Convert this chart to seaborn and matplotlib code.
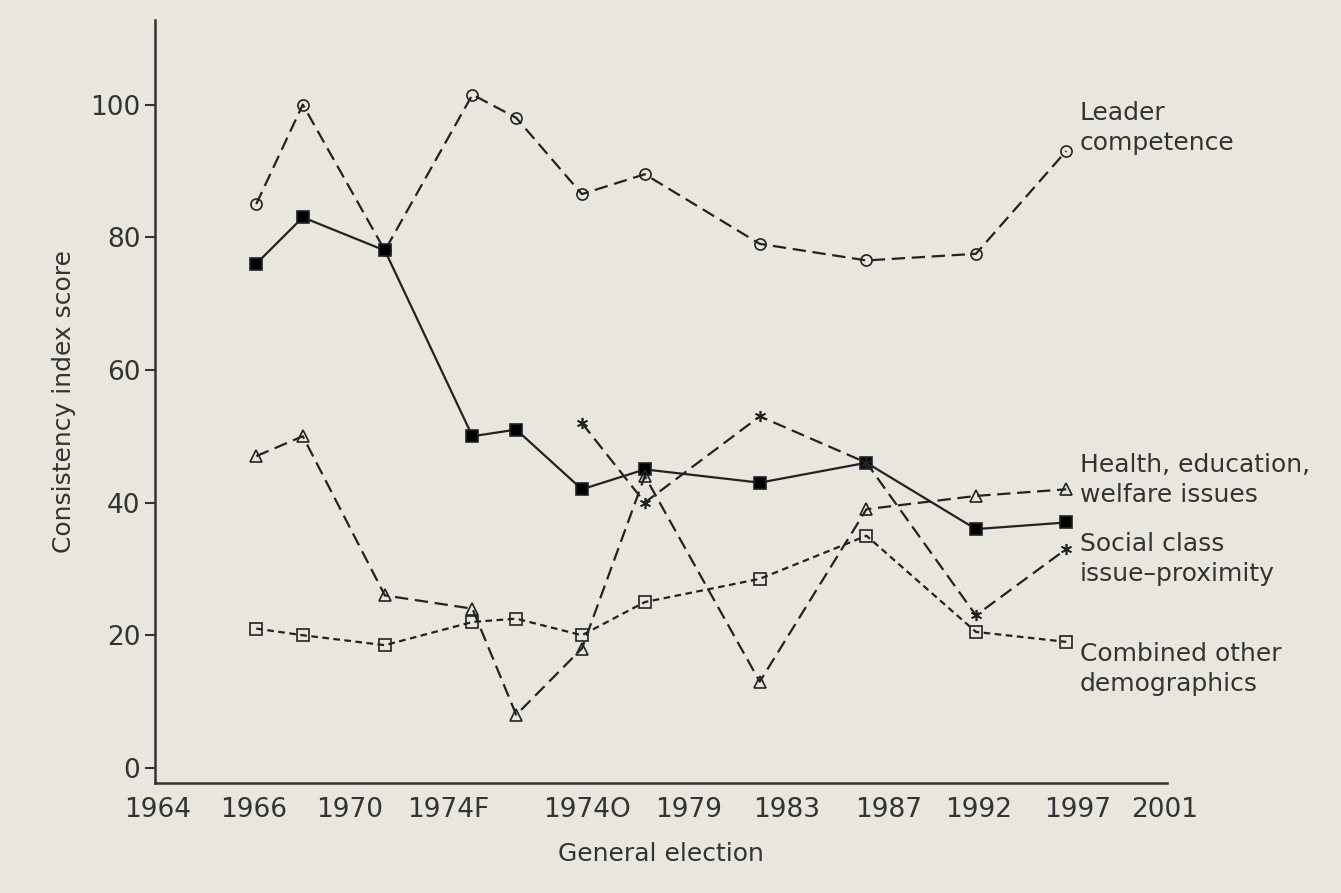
import numpy as np
import pandas as pd
import matplotlib
matplotlib.use("Agg")
import matplotlib.pyplot as plt
import seaborn as sns

# x positions on the chart's own (uneven) election scale
x_pts = [1967.7, 1969.4, 1972.4, 1975.6, 1977.2, 1979.6, 1981.9, 1986.1, 1990.0, 1994.0, 1997.3]
tick_pos = [1964.1, 1967.6, 1971.1, 1974.7, 1979.8, 1983.5, 1987.1, 1990.8, 1994.1, 1997.7, 2000.9]
tick_labels = ["1964", "1966", "1970", "1974F", "1974O", "1979", "1983", "1987", "1992", "1997", "2001"]

leader = [85, 100, 78, 101.5, 98, 86.5, 89.5, 79, 76.5, 77.5, 93]
social = [76, 83, 78, 50, 51, 42, 45, 43, 46, 36, 37]
health = [47, 50, 26, 24, 8, 18, 44, 13, 39, 41, 42]
proximity = [np.nan] * 5 + [52, 40, 53, 46, 23, 33]
combined = [21, 20, 18.5, 22, 22.5, 20, 25, 28.5, 35, 20.5, 19]

bg = "#e9e6dd"
sns.set_style("ticks")
plt.rcParams["font.family"] = ["DejaVu Sans"]
fig = plt.figure(figsize=(13.41, 8.93), dpi=100, facecolor=bg)
ax = fig.add_axes([0.1156, 0.123, 0.755, 0.855], facecolor=bg)

styles = [
    (leader, "o", "none", (6, 3), 1.6),
    (social, "s", "k", None, 1.6),
    (health, "^", "none", (6, 3), 1.6),
    (proximity, (6, 2, 0), "k", (6, 3), 1.6),
    (combined, "s", "none", (3, 2), 1.6),
]
for vals, mk, fc, dash, lw in styles:
    df = pd.DataFrame({"x": x_pts, "y": vals}).dropna()
    sns.lineplot(data=df, x="x", y="y", ax=ax, color="#222", lw=lw,
                 marker=mk, markersize=8, markerfacecolor=fc,
                 markeredgecolor="#222", markeredgewidth=1.2,
                 dashes=False)
    if dash is not None:
        ax.lines[-1].set_dashes(dash)

ax.set_xlim(1964, 2001)
ax.set_ylim(-2.3, 112.8)
ax.set_xticks(tick_pos)
ax.set_xticklabels(tick_labels)
ax.set_yticks([0, 20, 40, 60, 80, 100])
ax.tick_params(axis="x", length=0, labelsize=19, colors="#333", pad=10)
ax.tick_params(axis="y", length=7, labelsize=19, colors="#333", width=1.5)
ax.set_xlabel("General election", fontsize=18, color="#333", labelpad=14)
ax.set_ylabel("Consistency index score", fontsize=18, color="#333", labelpad=10)
for s in ["top", "right"]:
    ax.spines[s].set_visible(False)
for s in ["left", "bottom"]:
    ax.spines[s].set_linewidth(1.8)
    ax.spines[s].set_color("#333")

notes = [(100.5, "Leader\ncompetence"), (47.5, "Health, education,\nwelfare issues"),
         (35.5, "Social class\nissue–proximity"), (19, "Combined other\ndemographics")]
for yv, txt in notes:
    ax.text(1997.8, yv, txt, fontsize=18, color="#333", va="top", ha="left",
            linespacing=1.3, clip_on=False)

fig.savefig("out.png", dpi=100, facecolor=bg)
